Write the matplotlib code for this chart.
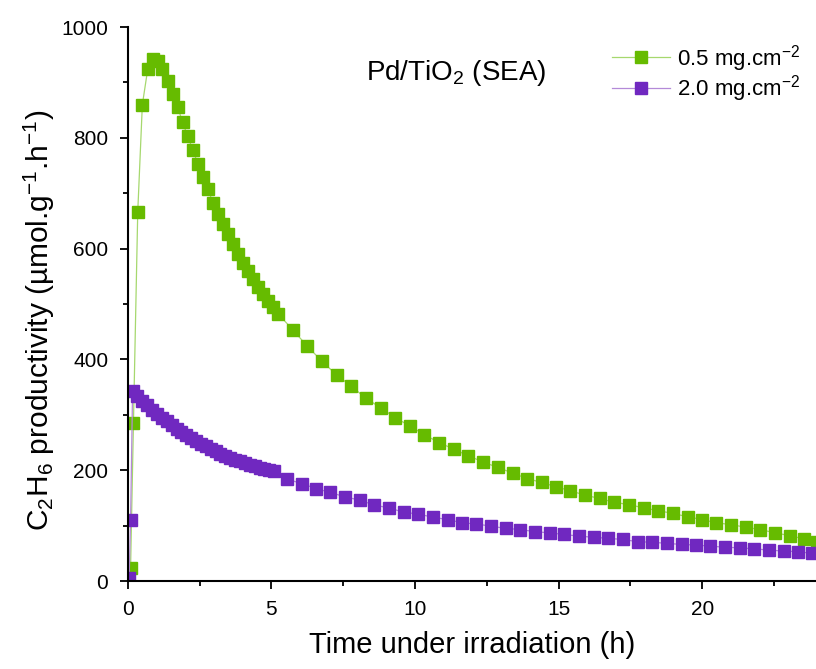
import numpy as np
import matplotlib
matplotlib.use('Agg')
import matplotlib.pyplot as plt
from matplotlib.ticker import MultipleLocator

plt.rcParams['font.family'] = 'Liberation Sans'
plt.rcParams['mathtext.fontset'] = 'custom'
plt.rcParams['mathtext.rm'] = 'Liberation Sans'
plt.rcParams['mathtext.it'] = 'Liberation Sans:italic'

# 0.5 mg.cm-2 series
t_low = [0.1, 0.2, 0.35, 0.51, 0.70, 0.87, 1.04, 1.20, 1.39, 1.57, 1.74, 1.91, 2.09, 2.26,
         2.45, 2.62, 2.79, 2.97, 3.14, 3.32, 3.49, 3.67, 3.84, 4.01, 4.19, 4.37, 4.55,
         4.72, 4.89, 5.07, 5.24, 5.74, 6.25, 6.76, 7.27, 7.78, 8.29, 8.80, 9.31, 9.82,
         10.33, 10.84, 11.35, 11.86, 12.37, 12.88, 13.40, 13.90, 14.41, 14.92, 15.41,
         15.92, 16.43, 16.94, 17.45, 17.96, 18.47, 18.98, 19.49, 20.00, 20.49, 21.00,
         21.51, 22.02, 22.53, 23.04, 23.55, 24.0]
p_low = [23, 286, 667, 860, 925, 942, 939, 924, 902, 880, 856, 828, 803, 779, 752, 729,
         708, 682, 662, 644, 626, 608, 591, 575, 560, 545, 531, 518, 506, 495, 482, 454,
         424, 397, 372, 352, 330, 313, 295, 280, 264, 250, 238, 226, 215, 205, 195, 185,
         178, 170, 163, 155, 149, 142, 138, 132, 127, 122, 116, 111, 105, 102, 97, 93,
         87, 82, 76, 70]

# 2.0 mg.cm-2 series
t_high = [0.05, 0.1, 0.17, 0.34, 0.51, 0.68, 0.85, 1.02, 1.19, 1.36, 1.53, 1.70, 1.87,
          2.04, 2.21, 2.38, 2.55, 2.72, 2.89, 3.06, 3.23, 3.40, 3.57, 3.74, 3.91, 4.08,
          4.25, 4.42, 4.59, 4.76, 4.93, 5.10, 5.53, 6.06, 6.55, 7.05, 7.56, 8.08, 8.59,
          9.10, 9.61, 10.12, 10.63, 11.14, 11.65, 12.14, 12.65, 13.16, 13.67, 14.18,
          14.69, 15.20, 15.71, 16.22, 16.73, 17.24, 17.75, 18.26, 18.77, 19.28, 19.79,
          20.28, 20.79, 21.30, 21.81, 22.32, 22.83, 23.34, 23.81]
p_high = [5, 110, 343, 334, 325, 317, 309, 302, 295, 288, 281, 275, 269, 263, 258, 253,
          248, 243, 238, 234, 230, 226, 222, 219, 216, 213, 210, 207, 204, 202, 200, 198,
          184, 176, 167, 160, 152, 146, 137, 132, 124, 121, 115, 111, 105, 103, 99, 95,
          93, 89, 87, 84, 81, 79, 77, 75, 71, 70, 68, 66, 65, 63, 61, 60, 58, 56, 54,
          53, 50]

fig = plt.figure(figsize=(8.16, 6.69), dpi=100)
ax = fig.add_axes([0.1565, 0.1315, 0.8435, 0.828])

ax.plot(t_low, p_low, color='#a6d86e', lw=0.9, marker='s', ms=8.6,
        mfc='#66bb00', mec='#66bb00', label='0.5 mg.cm$^{-2}$')
ax.plot(t_high, p_high, color='#b48ad8', lw=0.9, marker='s', ms=8.6,
        mfc='#7028c0', mec='#7028c0', label='2.0 mg.cm$^{-2}$')

ax.set_xlim(0, 23.96)
ax.set_ylim(0, 1000)
ax.xaxis.set_major_locator(MultipleLocator(5))
ax.xaxis.set_minor_locator(MultipleLocator(2.5))
ax.yaxis.set_major_locator(MultipleLocator(200))
ax.yaxis.set_minor_locator(MultipleLocator(100))
ax.tick_params(which='major', direction='out', length=6, width=1.3, labelsize=15, pad=8)
ax.tick_params(which='minor', direction='out', length=3.5, width=1.3)
for s in ['top', 'right']:
    ax.spines[s].set_visible(False)
for s in ['left', 'bottom']:
    ax.spines[s].set_linewidth(1.5)

ax.set_xlabel('Time under irradiation (h)', fontsize=21, labelpad=8)
ax.set_ylabel('C$_2$H$_6$ productivity (µmol.g$^{-1}$.h$^{-1}$)', fontsize=21.5)
ax.yaxis.set_label_coords(-0.102, 0.47)

ax.text(0.477, 0.905, 'Pd/TiO$_2$ (SEA)', transform=ax.transAxes, fontsize=20,
        ha='center', va='baseline')

ax.legend(loc='upper right', bbox_to_anchor=(1.0, 1.0), frameon=False, fontsize=16,
          handlelength=2.6, handletextpad=0.35, labelspacing=0.0, borderaxespad=0.3)

fig.savefig('out.png', dpi=100)
